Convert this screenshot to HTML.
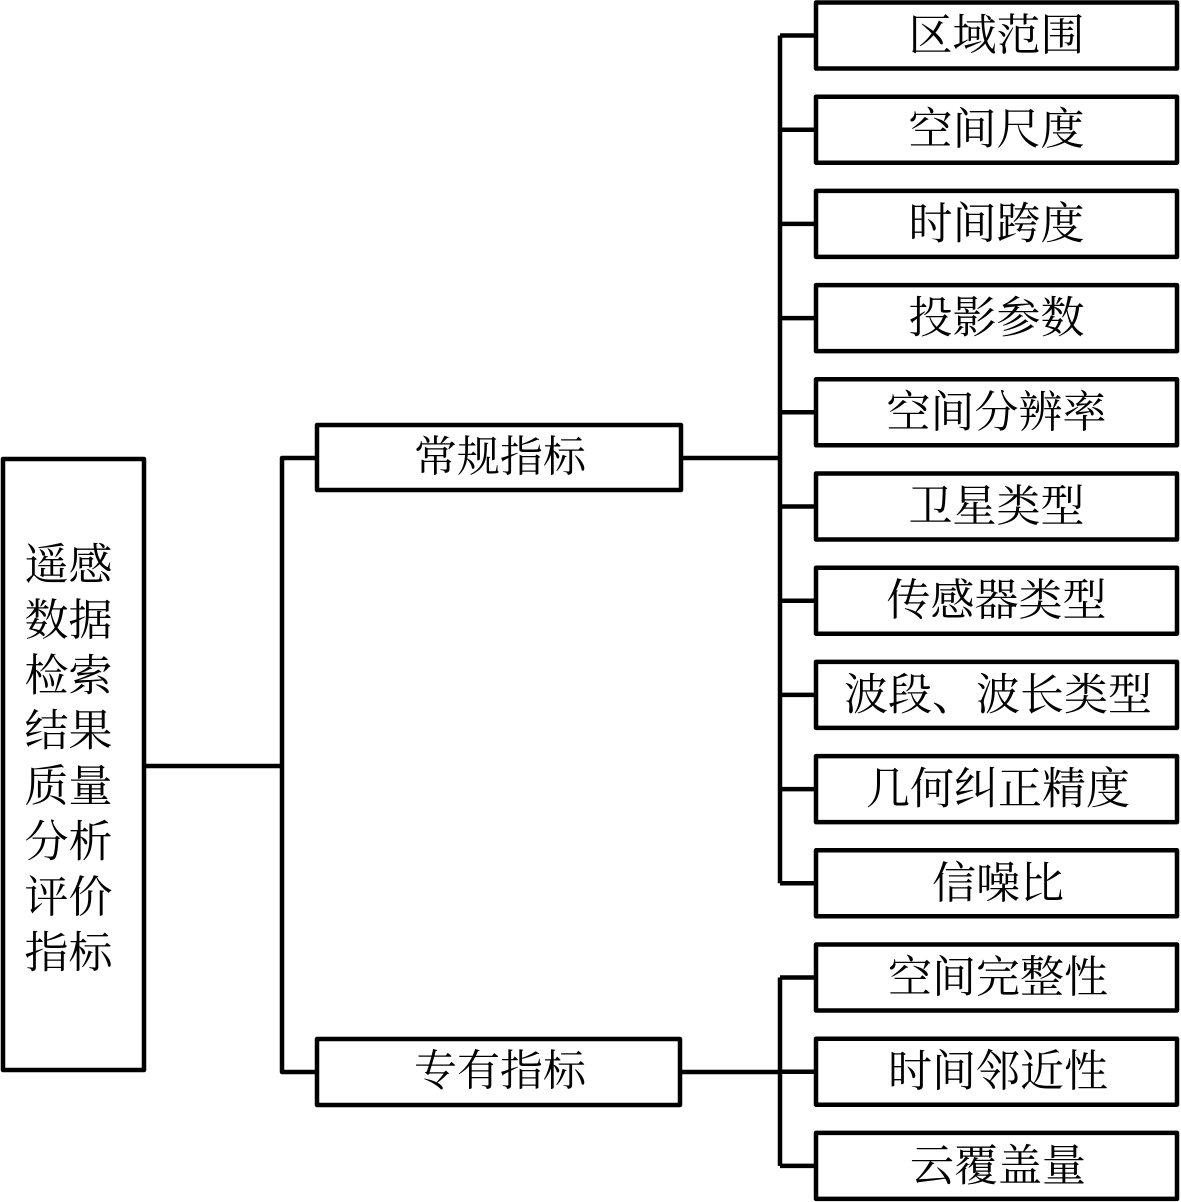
<!DOCTYPE html>
<html>
<head>
<meta charset="utf-8">
<style>
  html,body{margin:0;padding:0;background:#fff;}
  svg{display:block;}
  text{font-family:"Liberation Serif","Noto Serif CJK SC","Noto Sans CJK SC",serif;fill:#000;}
</style>
</head>
<body>
<svg width="1181" height="1202" viewBox="0 0 1181 1202" xmlns="http://www.w3.org/2000/svg">
  <g fill="none" stroke="#000" stroke-width="4.5" stroke-linejoin="round">
    <!-- left box -->
    <rect x="3" y="459" width="141" height="611"/>
    <!-- middle boxes -->
    <rect x="317" y="425" width="364" height="65"/>
    <rect x="317" y="1039" width="363" height="66"/>
    <!-- connectors left -->
    <line x1="144" y1="766" x2="282" y2="766"/>
    <polyline points="317,458 282,458 282,1072 317,1072"/>
    <!-- middle to right -->
    <line x1="681" y1="458" x2="780" y2="458"/>
    <line x1="680" y1="1072" x2="780" y2="1072"/>
    <!-- right verticals -->
    <line x1="780" y1="35.5" x2="780" y2="883.3"/>
    <line x1="780" y1="977.5" x2="780" y2="1165.9"/>
    <!-- stubs -->
    <line x1="780" y1="35.5" x2="816" y2="35.5"/>
    <line x1="780" y1="129.7" x2="816" y2="129.7"/>
    <line x1="780" y1="223.9" x2="816" y2="223.9"/>
    <line x1="780" y1="318.1" x2="816" y2="318.1"/>
    <line x1="780" y1="412.3" x2="816" y2="412.3"/>
    <line x1="780" y1="506.5" x2="816" y2="506.5"/>
    <line x1="780" y1="600.7" x2="816" y2="600.7"/>
    <line x1="780" y1="694.9" x2="816" y2="694.9"/>
    <line x1="780" y1="789.1" x2="816" y2="789.1"/>
    <line x1="780" y1="883.3" x2="816" y2="883.3"/>
    <line x1="780" y1="977.5" x2="816" y2="977.5"/>
    <line x1="780" y1="1071.7" x2="816" y2="1071.7"/>
    <line x1="780" y1="1165.9" x2="816" y2="1165.9"/>
    <!-- right boxes -->
    <rect x="816" y="2.5" width="361" height="66"/>
    <rect x="816" y="96.7" width="361" height="66"/>
    <rect x="816" y="190.9" width="361" height="66"/>
    <rect x="816" y="285.1" width="361" height="66"/>
    <rect x="816" y="379.3" width="361" height="66"/>
    <rect x="816" y="473.5" width="361" height="66"/>
    <rect x="816" y="567.7" width="361" height="66"/>
    <rect x="816" y="661.9" width="361" height="66"/>
    <rect x="816" y="756.1" width="361" height="66"/>
    <rect x="816" y="850.3" width="361" height="66"/>
    <rect x="816" y="944.5" width="361" height="66"/>
    <rect x="816" y="1038.7" width="361" height="66"/>
    <rect x="816" y="1132.9" width="361" height="66"/>
  </g>

  <!-- left text -->
  <g font-size="44" text-anchor="middle" dominant-baseline="central">
    <text x="68.5" y="565">遥感</text>
    <text x="68.5" y="620.4">数据</text>
    <text x="68.5" y="675.8">检索</text>
    <text x="68.5" y="731.2">结果</text>
    <text x="68.5" y="786.6">质量</text>
    <text x="68.5" y="842">分析</text>
    <text x="68.5" y="897.4">评价</text>
    <text x="68.5" y="952.8">指标</text>
  </g>

  <!-- middle text -->
  <g font-size="43" text-anchor="middle" dominant-baseline="central">
    <text x="500" y="458">常规指标</text>
    <text x="500" y="1072">专有指标</text>
  </g>

  <!-- right text -->
  <g font-size="44" text-anchor="middle" dominant-baseline="central">
    <text x="996.5" y="35.5">区域范围</text>
    <text x="996.5" y="129.7">空间尺度</text>
    <text x="996.5" y="223.9">时间跨度</text>
    <text x="996.5" y="318.1">投影参数</text>
    <text x="996.5" y="412.3">空间分辨率</text>
    <text x="996.5" y="506.5">卫星类型</text>
    <text x="996.5" y="600.7">传感器类型</text>
    <text x="998" y="694.9">波段、波长类型</text>
    <text x="998" y="789.1">几何纠正精度</text>
    <text x="998" y="883.3">信噪比</text>
    <text x="998" y="977.5">空间完整性</text>
    <text x="998" y="1071.7">时间邻近性</text>
    <text x="998" y="1165.9">云覆盖量</text>
  </g>
</svg>
</body>
</html>
